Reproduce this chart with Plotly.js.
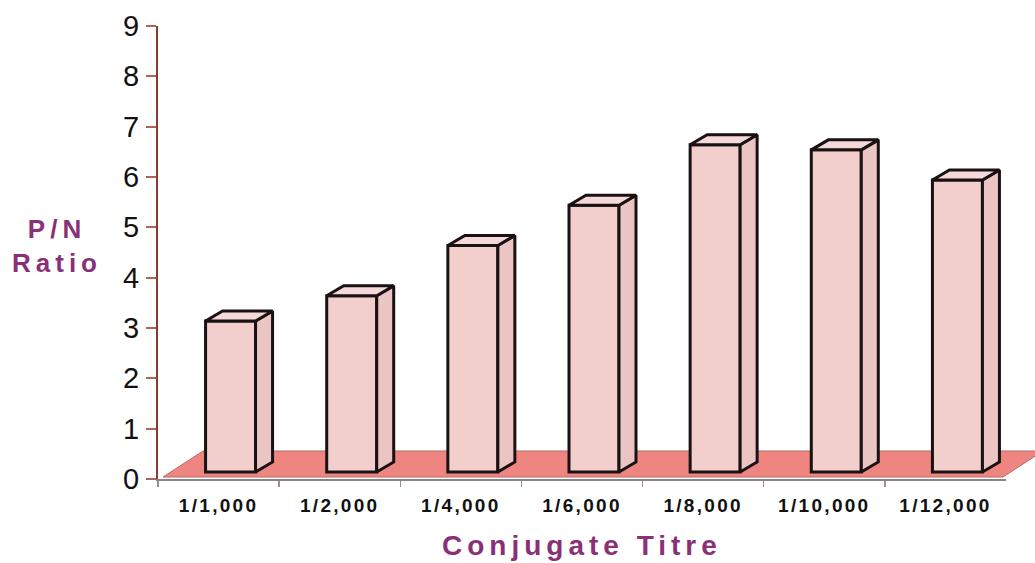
<!DOCTYPE html>
<html>
<head>
<meta charset="utf-8">
<script src="https://cdn.plot.ly/plotly-3.0.1.min.js"></script>
<style>
  html, body { margin: 0; padding: 0; background: #ffffff; }
  #chart { width: 1035px; height: 563px; }
  g.xtick text { letter-spacing: 2.3px; }
  text.annotation-text { letter-spacing: 5px; }
</style>
</head>
<body>
<div id="chart"></div>
<script>
// Conjugate titre categories and their P/N ratios
const titres = ['1/1,000', '1/2,000', '1/4,000', '1/6,000', '1/8,000', '1/10,000', '1/12,000'];
const pnRatio = [3.0, 3.5, 4.5, 5.3, 6.5, 6.4, 5.8];
const yTicks = [0, 1, 2, 3, 4, 5, 6, 7, 8, 9];

// Page and front-axis frame (pixels)
const W = 1035, H = 563;
const X0 = 158, X1 = 1006;   // left / right end of the category axis
const Y0 = 479, YTOP = 26;   // pixel rows of value 0 and value 9
const N = titres.length;
const YMAX = 9;
const ux = (X1 - X0) / N;          // pixels per category
const uy = (Y0 - YTOP) / YMAX;     // pixels per unit of ratio

// Pseudo-3D geometry, expressed in axis units
const FRONT_DX = 12 / ux, FRONT_DY = 7 / uy;    // bars stand partway into the floor
const DEPTH_DX = 17 / ux, DEPTH_DY = 10 / uy;   // bar depth
const BAR_W = 50 / ux;
const FLOOR = { x0: -0.5 + 5 / ux, x1: N - 0.5 - 3 / ux, y: 2 / uy, dx: 40 / ux, dy: 26 / uy };

const OUTLINE = '#1a1212';
const FRONT_COLOR = '#f2cfcd';
const SIDE_COLOR = '#ebc5c4';
const TOP_COLOR = '#f5d9d8';
const FLOOR_COLOR = '#ee8581';

// Side and top faces built from each bar's value
const sideX = [], sideY = [], topX = [], topY = [];
pnRatio.forEach((v, i) => {
  const xl = i + FRONT_DX - BAR_W / 2;
  const xr = i + FRONT_DX + BAR_W / 2;
  const b = FRONT_DY, t = FRONT_DY + v;
  sideX.push(xr, xr, xr + DEPTH_DX, xr + DEPTH_DX, xr, null);
  sideY.push(b, t, t + DEPTH_DY, b + DEPTH_DY, b, null);
  topX.push(xl, xr, xr + DEPTH_DX, xl + DEPTH_DX, xl, null);
  topY.push(t, t, t + DEPTH_DY, t + DEPTH_DY, t, null);
});

const traces = [
  // anchors the visible category / value axes
  { type: 'scatter', x: titres, y: pnRatio, mode: 'markers', marker: { opacity: 0 },
    hoverinfo: 'skip', showlegend: false, xaxis: 'x', yaxis: 'y' },
  { type: 'scatter', x: sideX, y: sideY, mode: 'lines', fill: 'toself', fillcolor: SIDE_COLOR,
    line: { color: OUTLINE, width: 3 }, hoverinfo: 'skip', showlegend: false, xaxis: 'x2', yaxis: 'y2' },
  { type: 'scatter', x: topX, y: topY, mode: 'lines', fill: 'toself', fillcolor: TOP_COLOR,
    line: { color: OUTLINE, width: 3 }, hoverinfo: 'skip', showlegend: false, xaxis: 'x2', yaxis: 'y2' },
  // front faces of the columns
  { type: 'bar', x: pnRatio.map((v, i) => i + FRONT_DX), y: pnRatio, base: FRONT_DY, width: BAR_W,
    marker: { color: FRONT_COLOR, line: { color: OUTLINE, width: 3 } },
    hoverinfo: 'skip', showlegend: false, xaxis: 'x2', yaxis: 'y2' }
];

const floorPath =
  `M ${FLOOR.x0},${FLOOR.y} L ${FLOOR.x1},${FLOOR.y} ` +
  `L ${FLOOR.x1 + FLOOR.dx},${FLOOR.y + FLOOR.dy} L ${FLOOR.x0 + FLOOR.dx},${FLOOR.y + FLOOR.dy} Z`;

const titleColor = '#8a3078';
const FONT = 'Arial, "Liberation Sans", sans-serif';

const layout = {
  width: W, height: H,
  margin: { l: 0, r: 0, t: 0, b: 0 },
  paper_bgcolor: '#ffffff',
  plot_bgcolor: 'rgba(0,0,0,0)',
  showlegend: false,
  bargap: 0,
  xaxis: {
    type: 'category', categoryorder: 'array', categoryarray: titres,
    domain: [X0 / W, X1 / W], range: [-0.5, N - 0.5], fixedrange: true,
    showline: true, linecolor: '#8f8282', linewidth: 1.5,
    ticks: 'outside', tickson: 'boundaries', ticklen: 6, tickwidth: 1.5, tickcolor: '#9a9090',
    tickfont: { family: FONT, size: 19, color: '#111111', weight: 'bold' },
    ticklabelstandoff: 9,
    showgrid: false, zeroline: false, anchor: 'y'
  },
  yaxis: {
    domain: [(H - Y0) / H, (H - YTOP) / H], range: [0, YMAX], fixedrange: true,
    tickmode: 'array', tickvals: yTicks, ticktext: yTicks.map(String),
    showline: true, linecolor: '#8a3a2e', linewidth: 2,
    ticks: 'outside', ticklen: 10, tickwidth: 2, tickcolor: '#b0625c',
    tickfont: { family: FONT, size: 29, color: '#111111' },
    ticklabelstandoff: 1,
    showgrid: false, zeroline: false, anchor: 'x'
  },
  xaxis2: {
    domain: [0, 1], range: [-0.5 - X0 / ux, N - 0.5 + (W - X1) / ux],
    visible: false, fixedrange: true, anchor: 'y2'
  },
  yaxis2: {
    domain: [0, 1], range: [-(H - Y0) / uy, YMAX + YTOP / uy],
    visible: false, fixedrange: true, anchor: 'x2'
  },
  shapes: [
    { type: 'path', xref: 'x2', yref: 'y2', layer: 'below', path: floorPath,
      fillcolor: FLOOR_COLOR, line: { color: '#b86a66', width: 1 } }
  ],
  annotations: [
    { text: 'P/N<br>Ratio', xref: 'paper', yref: 'paper', x: 57 / W, y: 1 - 246 / H,
      xanchor: 'center', yanchor: 'middle', align: 'center', showarrow: false,
      font: { family: FONT, size: 26, color: titleColor, weight: 'bold' } },
    { text: 'Conjugate Titre', xref: 'paper', yref: 'paper', x: 582 / W, y: 1 - 545 / H,
      xanchor: 'center', yanchor: 'middle', showarrow: false,
      font: { family: FONT, size: 28, color: titleColor, weight: 'bold' } }
  ]
};

Plotly.newPlot('chart', traces, layout, { displayModeBar: false, staticPlot: true });
</script>
</body>
</html>
